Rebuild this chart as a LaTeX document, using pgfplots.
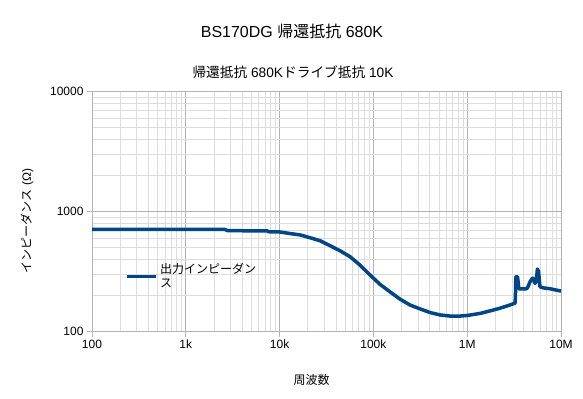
\documentclass[border=0pt]{standalone}
\usepackage{fontspec}
\setmainfont{Liberation Sans}
\newfontfamily\cjk{Noto Sans CJK JP}
\usepackage{pgfplots}
\pgfplotsset{compat=1.18}
\definecolor{series}{HTML}{004586}
\definecolor{majgrid}{HTML}{B3B3B3}
\definecolor{mingrid}{HTML}{DDDDDD}
\begin{document}
\begin{tikzpicture}
\fill[white] (0bp,0bp) rectangle (583bp,-399bp);
\path[use as bounding box] (0bp,0bp) rectangle (583bp,-399bp);
\begin{axis}[
  at={(92bp,-331.7bp)}, anchor=south west,
  scale only axis, width=469bp, height=240bp,
  xmode=log, ymode=log,
  xmin=100, xmax=1e7, ymin=100, ymax=10000,
  xtick={100,1000,10000,100000,1000000,10000000},
  xticklabels={100,1k,10k,100k,1M,10M},
  ytick={100,1000,10000},
  yticklabels={100,1000,10000},
  minor xtick={200,300,400,500,600,700,800,900,2000,3000,4000,5000,6000,7000,8000,9000,20000,30000,40000,50000,60000,70000,80000,90000,200000,300000,400000,500000,600000,700000,800000,900000,2000000,3000000,4000000,5000000,6000000,7000000,8000000,9000000},
  minor ytick={200,300,400,500,600,700,800,900,2000,3000,4000,5000,6000,7000,8000,9000},
  grid=both,
  major grid style={majgrid, line width=0.8bp},
  minor grid style={mingrid, line width=0.8bp},
  axis line style={majgrid, line width=0.8bp},
  tick align=outside, tick pos=left,
  major tick length=5bp, minor tick length=0pt,
  tick style={majgrid, line width=0.8bp},
  tick label style={font=\fontsize{12bp}{14bp}\selectfont, text=black},
  legend style={at={(0.065,0.23)}, anchor=west, draw=none, fill=none,
    font=\cjk\fontsize{12bp}{14bp}\selectfont, nodes={align=left}},
  legend cell align=left,
  legend image code/.code={\draw[#1, line width=3.5bp] (0bp,0bp) -- (29bp,0bp);},
]
\addplot[series, line width=3.5bp, line join=round] table {
f Z
100 713
250 713
870 713
2600 712
2800 695
7400 692
7600 681
10000 678
12900 658
16600 640
21100 607
27000 573
34500 521
44000 473
56300 422
72000 359
92000 297
117600 248
150000 215
192000 187
245000 167
314000 155
401000 144.5
513000 138
656000 135
838000 135
1000000 136.5
1370000 142
1750000 149
2240000 157
2860000 167
3240000 173
3270000 205
3300000 287
3440000 287
3560000 227
4300000 228
4450000 237
4680000 261
4950000 279
5030000 279
5280000 253
5450000 262
5600000 333
5750000 320
5970000 237
6430000 232
7640000 228
10000000 218
};
\addlegendentry{出力インピーダン\\ス}
\end{axis}
\node[anchor=base, font=\fontsize{16bp}{18bp}\selectfont] at (292bp,-37.4bp) {BS170DG {\cjk 帰還抵抗} 680K};
\node[anchor=base, font=\fontsize{13.7bp}{16bp}\selectfont] at (293bp,-77.4bp) {{\cjk 帰還抵抗} 680K{\cjk ドライブ抵抗} 10K};
\node[anchor=base, font=\cjk\fontsize{12bp}{14bp}\selectfont] at (311.7bp,-384bp) {周波数};
\node[rotate=90, font=\fontsize{12bp}{14bp}\selectfont] at (27bp,-221bp) {{\cjk インピーダンス} (Ω)};
\end{tikzpicture}
\end{document}
